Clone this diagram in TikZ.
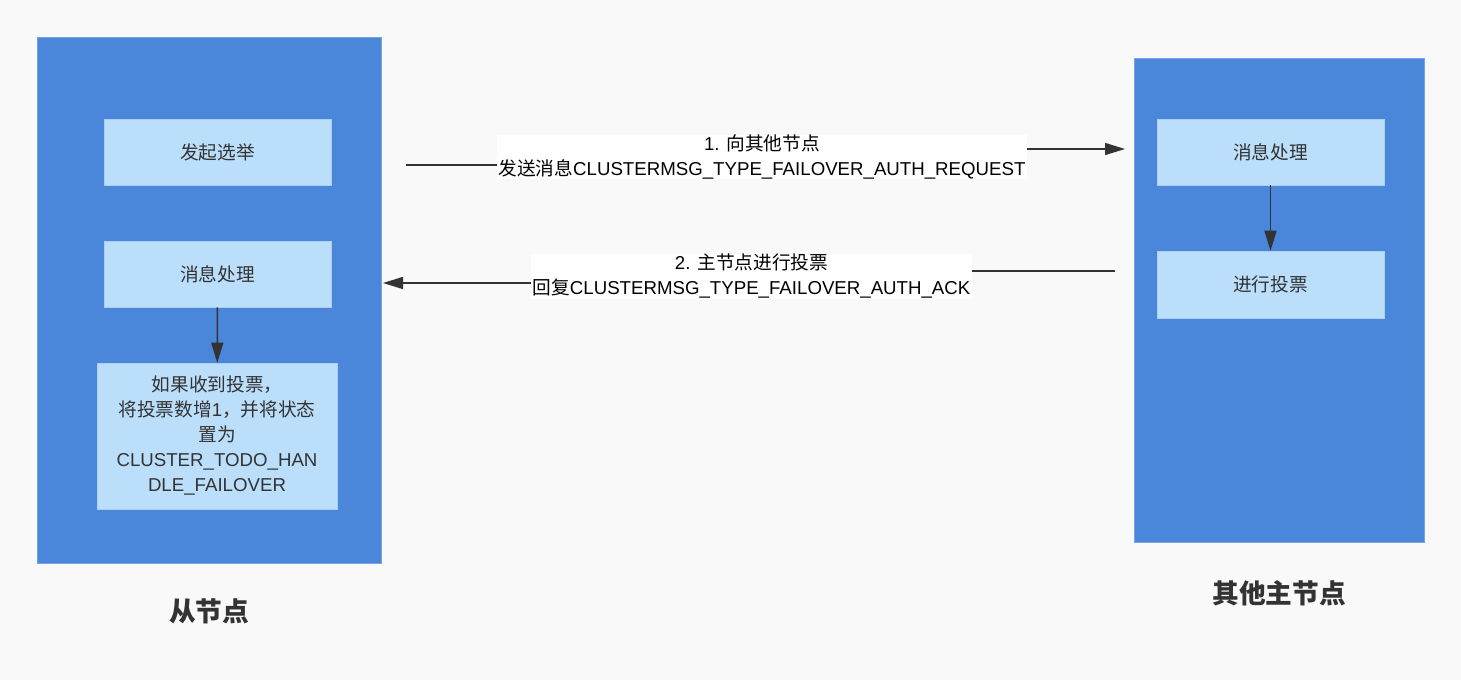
\documentclass[tikz,border=0pt]{standalone}
\usepackage{fontspec}
\setmainfont{Liberation Sans}
\newfontfamily\cjk{Noto Sans CJK SC}
\newcommand{\zh}[1]{{\cjk #1}}
\usepackage{xcolor}
\usetikzlibrary{arrows.meta,positioning}
\definecolor{bgcol}{RGB}{249,249,249}
\definecolor{nodeblue}{RGB}{74,134,218}
\definecolor{stepblue}{RGB}{187,222,250}
\definecolor{txtgray}{RGB}{51,51,51}

\begin{document}
\begin{tikzpicture}[x=0.75pt,y=-0.75pt,
  role/.style={fill=nodeblue,draw=nodeblue!75!white,line width=0.4pt,inner sep=0pt},
  stepbox/.style={fill=stepblue,draw=stepblue!85!nodeblue,line width=0.4pt,minimum width=170.25pt,minimum height=49.5pt,
    text=txtgray,align=center,font=\fontsize{14}{18.75}\selectfont},
  msglabel/.style={fill=white,align=center,inner xsep=1pt,inner ysep=0pt,font=\fontsize{14}{18.75}\selectfont},
  link/.style={draw=txtgray,line width=1.1pt},
  flow/.style={link,-{Triangle[length=15pt,width=9pt]}},
  title/.style={text=txtgray,font=\fontsize{20}{24}\selectfont\bfseries}]
\fill[bgcol] (0,0) rectangle (1461,680);
\useasboundingbox (0,0) rectangle (1461,680);
% the two roles
\node[role,minimum width=258pt,minimum height=394.5pt] (slave) at (209,300) {};
\node[role,minimum width=217.5pt,minimum height=363pt] (master) at (1279,300) {};
\node[title] (slavetitle) at (209,611) {\zh{从节点}};
\node[title] (mastertitle) at (1279,593) {\zh{其他主节点}};
% steps of the slave
\node[stepbox] (elect) at (217.5,152) {\zh{发起选举}};
\node[stepbox] (shandle) at (217.5,274) {\zh{消息处理}};
\node[stepbox,minimum width=180pt,minimum height=109.5pt] (count) at (217,436)
  {\zh{如果收到投票，}\\\zh{将投票数增}1\zh{，并将状态}\\\zh{置为}\\CLUSTER\_TODO\_HAN\\DLE\_FAILOVER};
\draw[flow] (shandle) -- (count);
% steps of the master
\node[stepbox] (mhandle) at (1270.5,152) {\zh{消息处理}};
\node[stepbox,minimum height=50.25pt] (vote) at (1270.5,284.5) {\zh{进行投票}};
\draw[flow] (mhandle) -- (vote);
% messages
\node[msglabel] (reqlabel) at (762,157) {1. \zh{向其他节点}\\\zh{发送消息}CLUSTERMSG\_TYPE\_FAILOVER\_AUTH\_REQUEST};
\node[msglabel] (acklabel) at (751.5,276.5) {2. \zh{主节点进行投票}\\\zh{回复}CLUSTERMSG\_TYPE\_FAILOVER\_AUTH\_ACK};
\coordinate (reqstart) at (406,165);
\coordinate (reqend) at (1125,149);
\coordinate (ackstart) at (1115,271);
\coordinate (ackend) at (383,283);
\draw[link] (reqstart) -- (reqstart -| reqlabel.west);
\draw[flow] (reqlabel.east |- reqend) -- (reqend);
\draw[link] (ackstart) -- (ackstart -| acklabel.east);
\draw[flow] (acklabel.west |- ackend) -- (ackend);
\end{tikzpicture}
\end{document}
